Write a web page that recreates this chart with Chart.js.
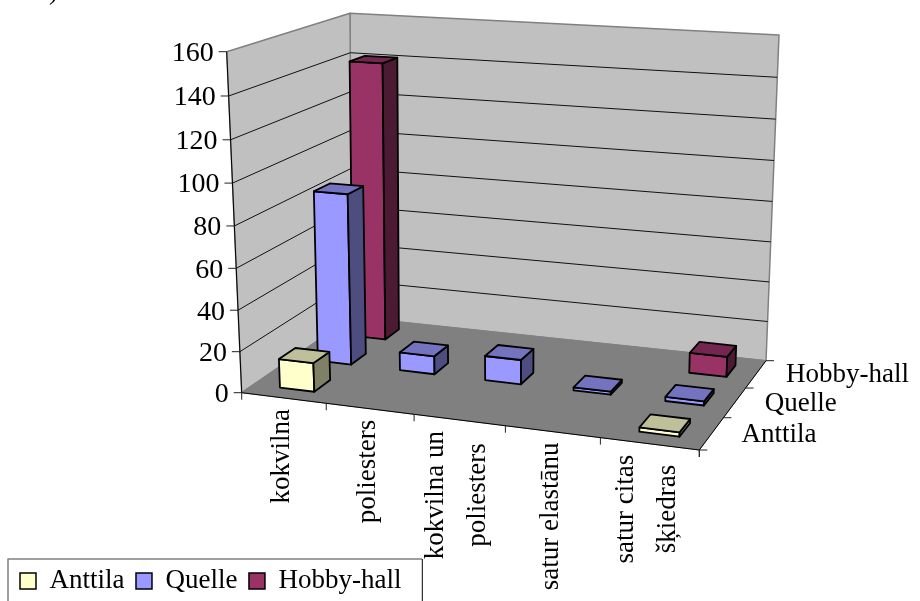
<!DOCTYPE html>
<html lang="lv">
<head>
    <meta charset="UTF-8">
    <title>Šķiedras</title>
    <script src="https://cdn.jsdelivr.net/npm/chart.js"></script>
    <style>
        body {
            margin: 0;
            background: #fff;
        }
        canvas {
            display: block;
        }
    </style>
</head>
<body>
    <canvas id="fibreChart" width="920" height="601"></canvas>

    <script>
        const categories = ['kokvilna', 'poliesters', ['kokvilna un', 'poliesters'], 'satur elastānu', ['satur citas', 'šķiedras']];
        const seriesNames = ['Anttila', 'Quelle', 'Hobby-hall'];
        const anttila = [14, 0, 0, 0, 2];
        const quelle = [85, 9, 12, 1.5, 2];
        const hobbyHall = [141, 0, 0, 0, 10];

        const seriesColors = ['#FFFFCC', '#9999FF', '#993366'];
        const topColors = ['#BFBF99', '#7373BF', '#732650'];
        const sideColors = ['#808066', '#4D4D80', '#4D1A33'];

        const labelFont = '27px "Liberation Serif"';
        const valueFont = '28px "Liberation Serif"';

        // corners of the plot box on the page: o front left, a front right, c back left, d back right
        const floorBox = { o: [241.7, 392.7], a: [699.3, 450], c: [352, 317], d: [766, 360.7] };
        const topBox = { o: [226.7, 51.7], a: [710, 82], c: [350, 13.3], d: [779, 35] };
        const valuePerspective = 0.957;

        function makePlane(box) {
            const ax = box.a[0] - box.d[0], ay = box.a[1] - box.d[1];
            const cx = box.c[0] - box.d[0], cy = box.c[1] - box.d[1];
            const ox = box.o[0] - box.d[0], oy = box.o[1] - box.d[1];
            const det = ax * cy - cx * ay;
            const wa = (ox * cy - cx * oy) / det;
            const wc = (ax * oy - ox * ay) / det;
            return function (u, d) {
                const w = 1 + (wa - 1) * u + (wc - 1) * d;
                return [0, 1].map(k => (box.o[k] + u * (wa * box.a[k] - box.o[k]) + d * (wc * box.c[k] - box.o[k])) / w);
            };
        }

        const floorPlane = makePlane(floorBox);
        const topPlane = makePlane(topBox);

        function drawFace(ctx, points, fill, stroke, width) {
            ctx.beginPath();
            points.forEach((p, i) => i ? ctx.lineTo(p[0], p[1]) : ctx.moveTo(p[0], p[1]));
            ctx.closePath();
            ctx.fillStyle = fill;
            ctx.fill();
            ctx.strokeStyle = stroke;
            ctx.lineWidth = width;
            ctx.stroke();
        }

        function drawLine(ctx, points, color) {
            ctx.beginPath();
            points.forEach((p, i) => i ? ctx.lineTo(p[0], p[1]) : ctx.moveTo(p[0], p[1]));
            ctx.strokeStyle = color;
            ctx.lineWidth = 1;
            ctx.stroke();
        }

        const boxPlugin = {
            id: 'box3d',
            beforeDatasetsDraw(chart) {
                const ctx = chart.ctx;
                const xScale = chart.scales.x;
                const yScale = chart.scales.y;
                const depthScale = chart.scales.depth;

                // category, series and value all go through the chart scales first
                const project = (cat, ser, value) => {
                    const u = (xScale.getPixelForValue(cat) - xScale.left) / xScale.width;
                    const d = (depthScale.getPixelForValue(ser) - depthScale.left) / depthScale.width;
                    const t = (yScale.bottom - yScale.getPixelForValue(value)) / yScale.height;
                    const tp = valuePerspective * t / (1 - t + valuePerspective * t);
                    const f = floorPlane(u, d);
                    const g = topPlane(u, d);
                    return [f[0] + tp * (g[0] - f[0]), f[1] + tp * (g[1] - f[1])];
                };

                const catStart = -0.5, catEnd = categories.length - 0.5;
                const serStart = -0.5, serEnd = seriesNames.length - 0.5;
                const vMin = yScale.min, vMax = yScale.max;

                ctx.save();
                ctx.lineJoin = 'round';

                // walls and floor
                drawFace(ctx, [project(catStart, serEnd, vMin), project(catEnd, serEnd, vMin), project(catEnd, serEnd, vMax), project(catStart, serEnd, vMax)], '#C0C0C0', '#808080', 1.5);
                drawFace(ctx, [project(catStart, serStart, vMin), project(catStart, serEnd, vMin), project(catStart, serEnd, vMax), project(catStart, serStart, vMax)], '#C0C0C0', '#808080', 1.5);
                drawFace(ctx, [project(catStart, serStart, vMin), project(catEnd, serStart, vMin), project(catEnd, serEnd, vMin), project(catStart, serEnd, vMin)], '#808080', '#808080', 1);

                yScale.ticks.forEach(tick => {
                    if (tick.value > vMin && tick.value < vMax) {
                        drawLine(ctx, [project(catStart, serStart, tick.value), project(catStart, serEnd, tick.value), project(catEnd, serEnd, tick.value)], '#111');
                    }
                });

                // axis lines
                drawLine(ctx, [project(catStart, serStart, vMax), project(catStart, serStart, vMin), project(catEnd, serStart, vMin), project(catEnd, serEnd, vMin)], '#000');

                // value axis ticks and labels
                ctx.fillStyle = '#000';
                ctx.font = valueFont;
                ctx.textAlign = 'right';
                ctx.textBaseline = 'middle';
                yScale.ticks.forEach(tick => {
                    const p = project(catStart, serStart, tick.value);
                    drawLine(ctx, [p, [p[0] - 8, p[1]]], '#222');
                    ctx.fillStyle = '#000';
                    ctx.fillText(tick.label, p[0] - 13, p[1] + 2);
                });

                // category ticks and rotated labels
                ctx.font = labelFont;
                for (let i = 0; i <= categories.length; i++) {
                    const p = project(i - 0.5, serStart, vMin);
                    drawLine(ctx, [p, [p[0], p[1] + 7]], '#222');
                }
                xScale.getLabels().forEach((label, i) => {
                    const lines = [].concat(label);
                    const p = project(i, serStart, vMin);
                    const widths = lines.map(line => ctx.measureText(line).width);
                    const longest = Math.max(...widths);
                    lines.forEach((line, k) => {
                        ctx.save();
                        ctx.translate(p[0] - 2 + (k - (lines.length - 1) / 2) * 42, p[1] + 11 + longest / 2);
                        ctx.rotate(-Math.PI / 2);
                        ctx.textAlign = 'center';
                        ctx.textBaseline = 'middle';
                        ctx.fillStyle = '#000';
                        ctx.fillText(line, 0, 0);
                        ctx.restore();
                    });
                });

                // series ticks and labels along the depth edge
                for (let s = 0; s <= seriesNames.length; s++) {
                    const p = project(catEnd, s - 0.5, vMin);
                    drawLine(ctx, [p, [p[0] + 8, p[1]]], '#222');
                }
                const cornerTick = project(catEnd, serStart, vMin);
                drawLine(ctx, [cornerTick, [cornerTick[0], cornerTick[1] + 7]], '#222');
                depthScale.getLabels().forEach((name, s) => {
                    const p = project(catEnd, s, vMin);
                    ctx.textAlign = 'left';
                    ctx.textBaseline = 'middle';
                    ctx.fillStyle = '#000';
                    ctx.fillText(name, p[0] + 30, p[1] + 1);
                });

                // bars, from the back row to the front
                for (let s = chart.data.datasets.length - 1; s >= 0; s--) {
                    const values = chart.data.datasets[s].data;
                    values.forEach((value, i) => {
                        if (!value) {
                            return;
                        }
                        const x0 = i - 0.185, x1 = i + 0.225;
                        const s0 = s - 0.2, s1 = s + 0.22;
                        const front = [project(x0, s0, 0), project(x1, s0, 0), project(x1, s0, value), project(x0, s0, value)];
                        const side = [project(x1, s0, 0), project(x1, s1, 0), project(x1, s1, value), project(x1, s0, value)];
                        const lid = [project(x0, s0, value), project(x1, s0, value), project(x1, s1, value), project(x0, s1, value)];
                        drawFace(ctx, front, seriesColors[s], '#000', 1.8);
                        drawFace(ctx, side, sideColors[s], '#000', 1.8);
                        drawFace(ctx, lid, topColors[s], '#000', 1.8);
                    });
                }

                // the ) left over from the text above the figure
                ctx.textAlign = 'left';
                ctx.textBaseline = 'alphabetic';
                ctx.fillStyle = '#000';
                ctx.fillText(')', 49, -1);

                // frame round the legend, its bottom runs off the page
                const hit = chart.legend.legendHitBoxes;
                ctx.beginPath();
                ctx.moveTo(hit[0].left - 12, 610);
                ctx.lineTo(hit[0].left - 12, 559);
                ctx.lineTo(422, 559);
                ctx.strokeStyle = '#808080';
                ctx.lineWidth = 1.5;
                ctx.stroke();
                drawLine(ctx, [[422.3, 559], [422.3, 610]], '#000');

                ctx.restore();
                return false;
            }
        };

        new Chart(document.getElementById('fibreChart'), {
            type: 'bar',
            data: {
                labels: categories,
                datasets: [
                    { label: seriesNames[0], data: anttila, backgroundColor: seriesColors[0], borderColor: '#000', borderWidth: 1.5 },
                    { label: seriesNames[1], data: quelle, backgroundColor: seriesColors[1], borderColor: '#000', borderWidth: 1.5 },
                    { label: seriesNames[2], data: hobbyHall, backgroundColor: seriesColors[2], borderColor: '#000', borderWidth: 1.5 }
                ]
            },
            options: {
                responsive: false,
                animation: false,
                layout: { padding: { left: 8.5, bottom: -3.5 } },
                scales: {
                    x: { type: 'category', display: false, offset: true },
                    depth: { type: 'category', axis: 'x', labels: seriesNames, display: false, offset: true },
                    y: { min: 0, max: 160, ticks: { stepSize: 20 }, display: false }
                },
                plugins: {
                    tooltip: { enabled: false },
                    legend: {
                        position: 'bottom',
                        align: 'start',
                        labels: {
                            boxWidth: 16,
                            boxHeight: 16,
                            padding: 11.5,
                            color: '#000',
                            font: { family: 'Liberation Serif', size: 27 }
                        }
                    }
                }
            },
            plugins: [boxPlugin]
        });
    </script>
</body>
</html>
